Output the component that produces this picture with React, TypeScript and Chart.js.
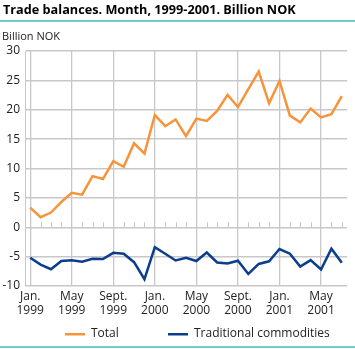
import React, { useEffect, useRef } from 'react';
import { Chart, registerables } from 'chart.js';

Chart.register(...registerables);

const TITLE = 'Trade balances. Month, 1999-2001. Billion NOK';
const UNIT = 'Billion NOK';

const categories = [
  '1999-01', '1999-02', '1999-03', '1999-04', '1999-05', '1999-06', '1999-07', '1999-08', '1999-09', '1999-10', '1999-11', '1999-12',
  '2000-01', '2000-02', '2000-03', '2000-04', '2000-05', '2000-06', '2000-07', '2000-08', '2000-09', '2000-10', '2000-11', '2000-12',
  '2001-01', '2001-02', '2001-03', '2001-04', '2001-05', '2001-06', '2001-07',
];

const xTickLabels = [
  ['Jan.', '1999'], ['May', '1999'], ['Sept.', '1999'],
  ['Jan.', '2000'], ['May', '2000'], ['Sept.', '2000'],
  ['Jan.', '2001'], ['May', '2001'],
];

const seriesNames = ['Total', 'Traditional commodities'];

const totalValues = [
  3.35, 1.7, 2.5, 4.3, 5.85, 5.55, 8.7, 8.2, 11.25, 10.3, 14.3, 12.55,
  19.1, 17.2, 18.35, 15.5, 18.5, 18.1, 19.8, 22.55, 20.45, 23.5, 26.5, 21.1,
  24.9, 19.0, 17.85, 20.2, 18.7, 19.25, 22.3,
];

const tradValues = [
  -5.2, -6.35, -7.15, -5.75, -5.6, -5.85, -5.35, -5.4, -4.35, -4.5, -5.95, -8.85,
  -3.4, -4.5, -5.65, -5.2, -5.75, -4.3, -6.0, -6.15, -5.7, -7.95, -6.25, -5.8,
  -3.7, -4.5, -6.7, -5.6, -7.2, -3.65, -6.05,
];

const FONT = '"Open Sans", "Noto Sans", sans-serif';
const ORANGE = '#f7943a';
const BLUE = '#0b3d8f';
const TEAL = '#6dcfca';
const GRID = '#c8c8c8';

const decor = {
  id: 'decor',
  beforeDatasetsDraw(chart: any) {
    const ctx = chart.ctx;
    const xs = chart.scales.x;
    const ys = chart.scales.y;
    const y0 = ys.getPixelForValue(0);
    ctx.save();
    ctx.strokeStyle = GRID;
    ctx.lineWidth = 1;
    for (let i = 0; i < categories.length; i++) {
      if (i % 4 === 0) continue;
      const x = Math.round(xs.getPixelForValue(i)) + 0.5;
      ctx.beginPath();
      ctx.moveTo(x, y0 - 5);
      ctx.lineTo(x, y0);
      ctx.stroke();
    }
    ctx.restore();
  },
  afterDraw(chart: any) {
    const ctx = chart.ctx;
    ctx.save();
    ctx.fillStyle = '#000';
    ctx.textBaseline = 'alphabetic';
    ctx.textAlign = 'left';
    ctx.font = `bold 12.7px ${FONT}`;
    ctx.fillText(TITLE, 3, 14);
    ctx.fillStyle = TEAL;
    ctx.fillRect(0, 20, chart.width, 2);
    ctx.fillRect(0, 346, chart.width, 2);
    ctx.fillStyle = '#222';
    ctx.font = `11px ${FONT}`;
    ctx.fillText(UNIT, 2, 40);
    // legend
    const colors = [ORANGE, BLUE];
    const starts = [65, 168];
    const ly = 334;
    ctx.font = `12px ${FONT}`;
    ctx.textBaseline = 'middle';
    seriesNames.forEach((name, i) => {
      ctx.fillStyle = colors[i];
      ctx.fillRect(starts[i], ly - 1, 20, 2.5);
      ctx.fillStyle = '#222';
      ctx.fillText(name, starts[i] + 26, ly);
    });
    ctx.restore();
  },
};

export default function App() {
  const ref = useRef<HTMLCanvasElement>(null);
  useEffect(() => {
    if (!ref.current) return;
    const chart = new Chart(ref.current, {
      type: 'line',
      data: {
        labels: categories,
        datasets: [
          { label: seriesNames[0], data: totalValues, borderColor: ORANGE, backgroundColor: ORANGE, borderWidth: 2.5, pointRadius: 0, tension: 0 },
          { label: seriesNames[1], data: tradValues, borderColor: BLUE, backgroundColor: BLUE, borderWidth: 2.5, pointRadius: 0, tension: 0 },
        ],
      },
      options: {
        responsive: false,
        animation: false,
        layout: { padding: { top: 51, right: 8, bottom: 30, left: 0 } },
        plugins: { legend: { display: false }, title: { display: false }, tooltip: { enabled: false } },
        scales: {
          x: {
            type: 'category',
            offset: true,
            grid: {
              offset: false,
              drawTicks: false,
              lineWidth: 1.3,
              color: (c: any) => (c.index % 4 === 0 ? GRID : 'rgba(0,0,0,0)'),
            },
            border: { display: false },
            ticks: {
              autoSkip: false,
              maxRotation: 0,
              padding: 3,
              color: '#222',
              font: { family: FONT, size: 12 },
              callback: (_v: any, i: number) => (i % 4 === 0 ? xTickLabels[i / 4] : ''),
            },
            afterFit: (s: any) => { s.height = 33; },
          },
          y: {
            min: -10,
            max: 30,
            grid: { color: GRID, drawTicks: false, lineWidth: 1.5 },
            border: { display: true, color: GRID, width: 1 },
            ticks: { stepSize: 5, padding: 5, color: '#222', font: { family: FONT, size: 12 } },
            afterFit: (s: any) => { s.width = 25; },
          },
        },
      },
      plugins: [decor],
    });
    return () => chart.destroy();
  }, []);
  return (
    <div style={{ position: 'fixed', left: 0, top: 0, width: 355, height: 349, background: '#fff' }}>
      <canvas ref={ref} width={355} height={349} />
    </div>
  );
}
